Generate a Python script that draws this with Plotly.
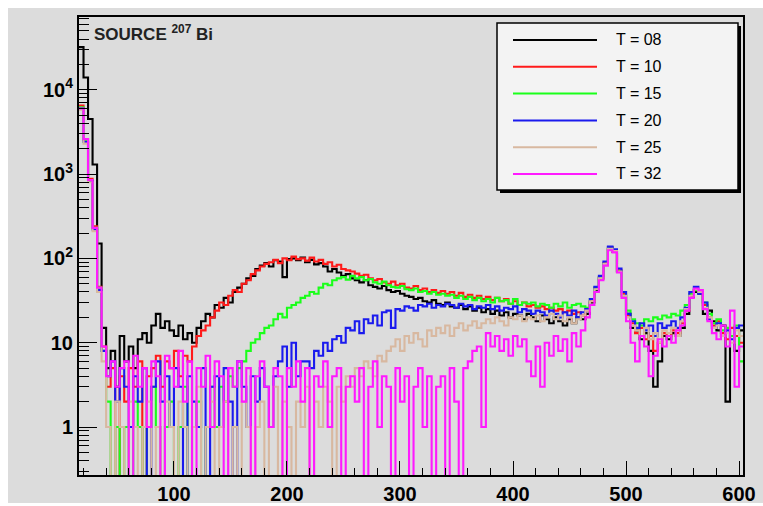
import plotly.graph_objects as go

# ---------------- data ----------------
BIN_START = 16
BIN_WIDTH = 4
N_BINS = 147

LABELS = ["T = 08", "T = 10", "T = 15", "T = 20", "T = 25", "T = 32"]
COLORS = ["#000000", "#ff1a1a", "#1aff1a", "#1a1aee", "#d8b8a0", "#ff1aff"]

T08 = [32000, 14000, 4500, 1300, 150, 15, 5, 8, 3, 12,
       6, 9, 5, 11, 13, 10, 16, 22, 15, 18,
       14, 12, 16, 11, 13, 10, 15, 18, 22, 20,
       28, 26, 34, 30, 40, 45, 50, 58, 62, 75,
       82, 88, 80, 95, 92, 60, 98, 100, 95, 102,
       90, 96, 85, 88, 80, 70, 75, 68, 62, 65,
       58, 55, 52, 55, 48, 46, 44, 47, 42, 40,
       41, 38, 36, 35, 33, 34, 31, 30, 32, 29,
       28, 30, 27, 26, 28, 25, 27, 24, 26, 23,
       25, 22, 24, 21, 23, 20, 22, 21, 19, 22,
       20, 18, 21, 19, 17, 20, 18, 16, 19, 17,
       20, 19, 22, 30, 42, 58, 85, 135, 120, 70,
       40, 22, 15, 14, 11, 13, 8, 3, 6, 12,
       11, 13, 12, 15, 22, 35, 40, 38, 22, 24,
       18, 14, 16, 2, 12, 8, 14]

T10 = [6500, 2600, 880, 240, 46, 9, 3, 5, 0, 4,
       2, 5, 3, 6, 0, 4, 5, 7, 3, 6,
       5, 8, 4, 7, 6, 9, 12, 14, 16, 20,
       24, 30, 28, 36, 42, 40, 50, 55, 65, 72,
       80, 86, 90, 96, 88, 100, 95, 105, 98, 100,
       94, 102, 92, 96, 86, 90, 80, 84, 75, 72,
       70, 66, 62, 64, 58, 55, 57, 52, 50, 53,
       48, 50, 45, 44, 47, 42, 44, 40, 42, 39,
       41, 38, 40, 36, 39, 35, 37, 34, 36, 33,
       35, 32, 34, 31, 33, 29, 31, 28, 30, 27,
       28, 26, 27, 25, 26, 24, 25, 23, 24, 22,
       23, 21, 24, 31, 44, 60, 88, 130, 125, 72,
       38, 21, 17, 13, 15, 11, 12, 8, 10, 13,
       12, 14, 13, 17, 24, 36, 42, 40, 28, 20,
       16, 18, 13, 11, 15, 12, 10]

T15 = [6200, 2500, 850, 230, 45, 8, 2, 0, 1, 0,
       1, 0, 2, 1, 0, 1, 3, 1, 0, 1,
       2, 0, 1, 3, 0, 1, 2, 0, 1, 3,
       1, 3, 2, 4, 3, 5, 6, 8, 10, 11,
       13, 15, 16, 19, 22, 20, 26, 28, 30, 34,
       36, 40, 38, 45, 50, 48, 55, 58, 60, 56,
       62, 58, 60, 55, 57, 52, 50, 53, 48, 46,
       45, 47, 43, 42, 44, 40, 41, 38, 40, 37,
       38, 36, 37, 34, 36, 33, 35, 32, 34, 31,
       33, 30, 34, 31, 32, 29, 33, 28, 30, 29,
       30, 27, 29, 28, 26, 29, 27, 30, 26, 28,
       29, 27, 26, 33, 45, 60, 86, 128, 122, 70,
       36, 24, 19, 17, 16, 19, 18, 20, 19, 21,
       20, 22, 21, 24, 28, 38, 42, 40, 30, 22,
       17, 19, 14, 15, 12, 16, 6]

T20 = [6000, 2400, 820, 220, 42, 8, 4, 6, 2, 5,
       3, 1, 4, 2, 5, 0, 3, 6, 2, 4,
       1, 5, 3, 0, 4, 2, 1, 5, 0, 3,
       4, 1, 5, 2, 0, 6, 3, 1, 4, 2,
       5, 3, 1, 4, 6, 9, 3, 10, 4, 6,
       6, 5, 8, 7, 10, 8, 11, 12, 10, 15,
       14, 18, 13, 19, 17, 21, 16, 23, 24, 15,
       25, 24, 27, 26, 24, 28, 27, 29, 26, 28,
       27, 29, 28, 26, 29, 27, 28, 25, 27, 26,
       28, 25, 27, 24, 26, 25, 27, 23, 25, 24,
       22, 24, 23, 21, 24, 22, 20, 23, 21, 24,
       20, 23, 25, 33, 46, 62, 92, 138, 128, 76,
       40, 22, 18, 15, 17, 14, 16, 12, 17, 15,
       16, 18, 15, 20, 26, 40, 46, 38, 30, 19,
       15, 17, 12, 14, 11, 15, 16]

T25 = [5800, 2300, 800, 210, 40, 6, 1, 0, 2, 1,
       0, 2, 1, 0, 1, 2, 0, 1, 0, 2,
       1, 0, 2, 1, 0, 1, 3, 0, 1, 2,
       0, 1, 2, 0, 1, 0, 2, 1, 0, 1,
       2, 0, 1, 3, 0, 2, 1, 0, 2, 1,
       3, 0, 2, 1, 3, 2, 0, 3, 2, 4,
       3, 5, 4, 6, 5, 4, 7, 6, 8, 9,
       11, 8, 12, 10, 13, 11, 9, 14, 12, 15,
       13, 16, 12, 15, 17, 14, 16, 18, 15, 17,
       19, 17, 20, 18, 16, 20, 19, 21, 18, 20,
       19, 21, 18, 20, 22, 19, 21, 18, 20, 17,
       19, 21, 24, 31, 43, 58, 86, 130, 122, 70,
       36, 20, 16, 14, 12, 15, 11, 13, 10, 14,
       13, 15, 12, 18, 25, 36, 43, 40, 26, 20,
       15, 16, 12, 13, 10, 14, 12]

T32 = [6000, 2600, 850, 230, 45, 9, 4, 6, 3, 5,
       6, 0, 7, 3, 5, 1, 6, 4, 0, 7,
       5, 3, 8, 2, 6, 0, 5, 3, 7, 1,
       6, 4, 0, 5, 3, 6, 2, 5, 0, 4,
       6, 3, 1, 5, 4, 0, 5, 3, 6, 2,
       5, 0, 4, 3, 6, 1, 4, 5, 0, 3,
       4, 2, 5, 0, 3, 6, 1, 4, 3, 0,
       5, 2, 4, 0, 3, 5, 1, 4, 0, 3,
       4, 0, 5, 2, 0, 5, 6, 8, 9, 1,
       13, 9, 12, 8, 11, 7, 12, 9, 11, 6,
       4, 9, 3, 10, 7, 12, 8, 11, 6, 13,
       9, 14, 20, 28, 40, 55, 82, 125, 118, 68,
       34, 18, 10, 6, 12, 9, 4, 7, 11, 9,
       12, 10, 14, 16, 24, 34, 44, 42, 25, 18,
       13, 11, 16, 9, 24, 3, 9]

SERIES = [T08, T10, T15, T20, T25, T32]

X_TICKS = [100, 200, 300, 400, 500, 600]
Y_TICKS = [1, 10, 100, 1000, 10000]
Y_TICKTEXT = ["1", "10", "10<sup>2</sup>", "10<sup>3</sup>", "10<sup>4</sup>"]
TITLE = "SOURCE <sup>207</sup> Bi"

# ---------------- figure ----------------
W, H = 763, 506
L, R, T, B = 79, 743, 17, 475  # plot area in pixels


def ppx(x):
    return (x - L) / (R - L)


def ppy(y):
    return (B - y) / (B - T)


edges = [BIN_START + BIN_WIDTH * i for i in range(N_BINS + 1)]
fig = go.Figure()
for vals, col, name in zip(SERIES, COLORS, LABELS):
    ys = [v if v > 0 else 0.05 for v in vals]
    ys = ys + [ys[-1]]
    fig.add_trace(go.Scatter(x=edges, y=ys, mode="lines", line_shape="hv",
                             line=dict(color=col, width=2.1), name=name,
                             showlegend=False, hoverinfo="skip"))

GRAY = "#dcdcdc"
minor_y = [k * 10 ** n for n in range(-1, 5) for k in range(2, 10)]

fig.update_layout(
    width=W, height=H,
    margin=dict(l=L, r=W - R, t=T, b=H - B, pad=0, autoexpand=False),
    paper_bgcolor="white", plot_bgcolor=GRAY,
    font=dict(family="Liberation Sans, Arial, sans-serif", color="black"),
    xaxis=dict(range=[16, 603.5], tickmode="array", tickvals=X_TICKS,
               automargin=False,
               ticks="inside", ticklen=14, tickwidth=1.2, tickcolor="black",
               tickfont=dict(size=20, family="Liberation Sans", weight="bold"),
               showline=True, linecolor="black", linewidth=2, mirror=True,
               showgrid=False, zeroline=False,
               minor=dict(ticks="inside", dtick=20, tick0=0, ticklen=7,
                          tickcolor="black", tickwidth=1.1, showgrid=False)),
    yaxis=dict(type="log", range=[-0.569, 4.863], tickmode="array",
               tickvals=Y_TICKS, ticktext=Y_TICKTEXT, automargin=False,
               ticks="inside", ticklen=18, tickwidth=1.2, tickcolor="black",
               tickfont=dict(size=20, family="Liberation Sans", weight="bold"),
               showline=True, linecolor="black", linewidth=2, mirror=True,
               showgrid=False, zeroline=False,
               minor=dict(ticks="inside", tickmode="array", tickvals=minor_y,
                          ticklen=10, tickcolor="black", tickwidth=1.1,
                          showgrid=False)),
)

shapes = []
# grey canvas with small white border
shapes.append(dict(type="rect", xref="paper", yref="paper", layer="below",
                   x0=ppx(8), x1=ppx(763), y0=ppy(503), y1=ppy(8),
                   fillcolor=GRAY, line=dict(width=0)))
# legend shadow and box
shapes.append(dict(type="rect", xref="paper", yref="paper", layer="above",
                   x0=ppx(500), x1=ppx(741), y0=ppy(193), y1=ppy(26),
                   fillcolor="black", line=dict(width=0)))
shapes.append(dict(type="rect", xref="paper", yref="paper", layer="above",
                   x0=ppx(497), x1=ppx(738), y0=ppy(190), y1=ppy(23),
                   fillcolor="#f3f3f3", line=dict(color="black", width=1.5)))
annotations = []
for i, (col, name) in enumerate(zip(COLORS, LABELS)):
    yy = 40 + 26.8 * i
    shapes.append(dict(type="line", xref="paper", yref="paper", layer="above",
                       x0=ppx(513), x1=ppx(597), y0=ppy(yy), y1=ppy(yy),
                       line=dict(color=col, width=2)))
    annotations.append(dict(xref="paper", yref="paper", x=ppx(614), y=ppy(yy),
                            text=name, showarrow=False, xanchor="left",
                            yanchor="middle",
                            font=dict(size=16, family="Liberation Sans",
                                      color="black")))
annotations.append(dict(xref="paper", yref="paper", x=ppx(92), y=ppy(33),
                        text="<b>" + TITLE + "</b>", showarrow=False,
                        xanchor="left", yanchor="middle",
                        font=dict(size=17, family="Liberation Sans",
                                  color="#222222")))
fig.update_layout(shapes=shapes, annotations=annotations)

fig.write_html("out.html")
